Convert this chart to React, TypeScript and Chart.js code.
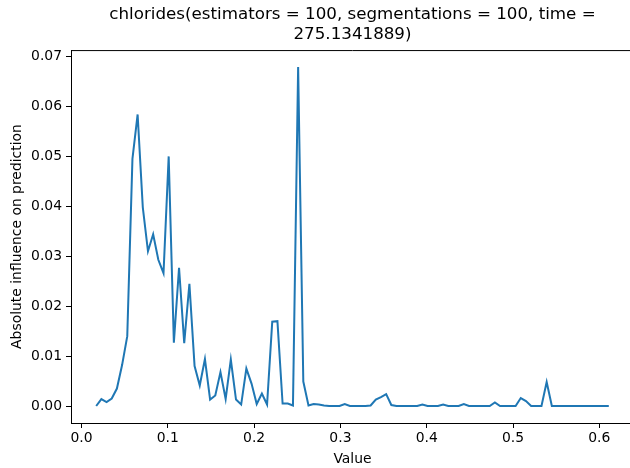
import React, { useEffect, useRef } from "react";
import { Chart, registerables } from "chart.js";

Chart.register(...registerables);

const titleLines = ["chlorides(estimators = 100, segmentations = 100, time =", "275.1341889)"];
const xLabel = "Value";
const yLabel = "Absolute influence on prediction";

const xTicks = [0.0, 0.1, 0.2, 0.3, 0.4, 0.5, 0.6];
const yTicks = [0.0, 0.01, 0.02, 0.03, 0.04, 0.05, 0.06, 0.07];

const xValues = [
  0.017, 0.023, 0.029, 0.035, 0.041, 0.047, 0.053, 0.059, 0.065, 0.071,
  0.077, 0.083, 0.089, 0.095, 0.101, 0.107, 0.113, 0.119, 0.125, 0.131,
  0.137, 0.143, 0.149, 0.155, 0.161, 0.167, 0.173, 0.179, 0.185, 0.191,
  0.197, 0.203, 0.209, 0.215, 0.221, 0.227, 0.233, 0.239, 0.245, 0.251,
  0.257, 0.263, 0.269, 0.275, 0.281, 0.287, 0.293, 0.299, 0.305, 0.311,
  0.317, 0.323, 0.329, 0.335, 0.341, 0.347, 0.353, 0.359, 0.365, 0.371,
  0.377, 0.383, 0.389, 0.395, 0.401, 0.407, 0.413, 0.419, 0.425, 0.431,
  0.437, 0.443, 0.449, 0.455, 0.461, 0.467, 0.473, 0.479, 0.485, 0.491,
  0.497, 0.503, 0.509, 0.515, 0.521, 0.527, 0.533, 0.539, 0.545, 0.551,
  0.557, 0.563, 0.569, 0.575, 0.581, 0.587, 0.593, 0.599, 0.605, 0.611,
];

const influence = [
  0.0000, 0.0014, 0.0008, 0.0015, 0.0035, 0.0082, 0.0140, 0.0495, 0.0584, 0.0398,
  0.0310, 0.0344, 0.0293, 0.0266, 0.0500, 0.0127, 0.0277, 0.0126, 0.0245, 0.0080,
  0.0041, 0.0094, 0.0013, 0.0021, 0.0068, 0.0014, 0.0093, 0.0013, 0.0003, 0.0075,
  0.0045, 0.0004, 0.0025, 0.0003, 0.0169, 0.0170, 0.0005, 0.0005, 0.0001, 0.0679,
  0.0049, 0.0001, 0.0004, 0.0003, 0.0001, 0.0000, 0.0000, 0.0000, 0.0004, 0.0000,
  0.0000, 0.0000, 0.0000, 0.0001, 0.0013, 0.0018, 0.0024, 0.0002, 0.0000, 0.0000,
  0.0000, 0.0000, 0.0000, 0.0003, 0.0000, 0.0000, 0.0000, 0.0003, 0.0000, 0.0000,
  0.0000, 0.0004, 0.0000, 0.0000, 0.0000, 0.0000, 0.0000, 0.0007, 0.0000, 0.0000,
  0.0000, 0.0000, 0.0016, 0.0010, 0.0000, 0.0000, 0.0000, 0.0048, 0.0000, 0.0000,
  0.0000, 0.0000, 0.0000, 0.0000, 0.0000, 0.0000, 0.0000, 0.0000, 0.0000, 0.0000,
];

const FONT = "'DejaVu Sans', 'Liberation Sans', sans-serif";

const frame = {
  id: "frame",
  afterDraw(chart: any) {
    const { ctx, chartArea } = chart;
    ctx.save();
    ctx.strokeStyle = "#000";
    ctx.lineWidth = 1;
    ctx.beginPath();
    ctx.moveTo(chartArea.left, chartArea.top + 0.5);
    ctx.lineTo(chartArea.right, chartArea.top + 0.5);
    ctx.moveTo(chartArea.right - 0.5, chartArea.top);
    ctx.lineTo(chartArea.right - 0.5, chartArea.bottom);
    ctx.stroke();
    ctx.restore();
  },
};

export default function App() {
  const ref = useRef<HTMLCanvasElement | null>(null);
  useEffect(() => {
    if (!ref.current) return;
    const chart = new Chart(ref.current, {
      type: "line",
      data: {
        datasets: [
          {
            data: xValues.map((x, i) => ({ x, y: influence[i] })),
            borderColor: "#1f77b4",
            borderWidth: 2,
            pointRadius: 0,
            tension: 0,
            fill: false,
          },
        ],
      },
      options: {
        animation: false,
        responsive: false,
        devicePixelRatio: 1,
        layout: { padding: { left: 0, right: 6, top: 0, bottom: 0 } },
        plugins: {
          legend: { display: false },
          tooltip: { enabled: false },
          title: {
            display: true,
            text: titleLines,
            fullSize: false,
            color: "#000",
            font: { family: FONT, size: 16.7, weight: "normal" },
            padding: { top: 5, bottom: 5 },
          },
        },
        scales: {
          x: {
            type: "linear",
            min: -0.0122,
            max: 0.6402,
            afterBuildTicks: (s: any) => {
              s.ticks = xTicks.map((v) => ({ value: v }));
            },
            afterFit: (s: any) => {
              s.height = 45;
            },
            ticks: {
              color: "#000",
              font: { family: FONT, size: 13.9 },
              padding: 2,
              maxRotation: 0,
              autoSkip: false,
              callback: (v: any) => Number(v).toFixed(1),
            },
            grid: { drawOnChartArea: false, drawTicks: true, tickLength: 5, color: "#000" },
            border: { display: true, color: "#000", width: 1 },
            title: {
              display: true,
              text: xLabel,
              color: "#000",
              font: { family: FONT, size: 13.9 },
              padding: { top: 0, bottom: 0 },
            },
          },
          y: {
            type: "linear",
            min: -0.0034,
            max: 0.0713,
            afterBuildTicks: (s: any) => {
              s.ticks = yTicks.map((v) => ({ value: v }));
            },
            afterFit: (s: any) => {
              s.width = 71;
            },
            ticks: {
              color: "#000",
              font: { family: FONT, size: 13.9 },
              padding: 4,
              autoSkip: false,
              callback: (v: any) => Number(v).toFixed(2),
            },
            grid: { drawOnChartArea: false, drawTicks: true, tickLength: 5, color: "#000" },
            border: { display: true, color: "#000", width: 1 },
            title: {
              display: true,
              text: yLabel,
              color: "#000",
              font: { family: FONT, size: 13.9 },
              padding: { top: 9, bottom: 0 },
            },
          },
        },
      },
      plugins: [frame],
    });
    return () => chart.destroy();
  }, []);
  return (
    <div style={{ position: "fixed", left: 0, top: 0, width: 640, height: 468, background: "#fff" }}>
      <canvas ref={ref} width={640} height={468} style={{ display: "block", width: 640, height: 468 }} />
    </div>
  );
}
